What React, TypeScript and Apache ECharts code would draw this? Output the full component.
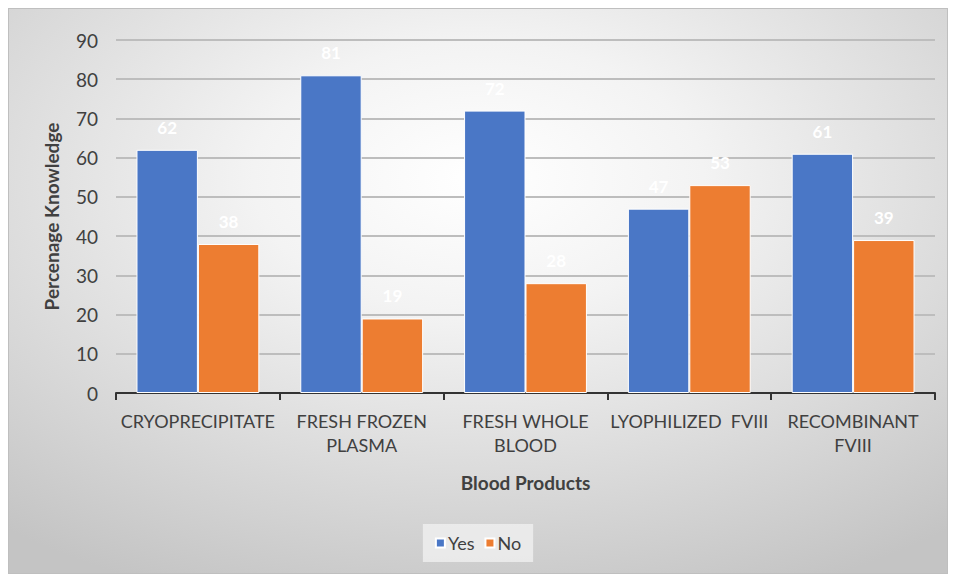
import React, { useEffect, useRef } from "react";
import * as echarts from "echarts";

const categories = ["CRYOPRECIPITATE", "FRESH FROZEN\nPLASMA", "FRESH WHOLE\nBLOOD", "LYOPHILIZED  FVIII", "RECOMBINANT\nFVIII"];
const yesValues = [62, 81, 72, 47, 61];
const noValues = [38, 19, 28, 53, 39];
const seriesNames = ["Yes", "No"];

const FONT = "Lato, 'Open Sans', sans-serif";

export default function App() {
  const ref = useRef<HTMLDivElement>(null);
  useEffect(() => {
    if (!ref.current) return;
    const chart = echarts.init(ref.current, null, { renderer: "svg" });
    const label = {
      show: true,
      position: "top",
      color: "#ffffff",
      fontWeight: "bold",
      fontSize: 17,
      fontFamily: FONT,
      distance: 14,
    };
    chart.setOption({
      animation: false,
      backgroundColor: {
        type: "radial",
        x: 0.5,
        y: 0.3,
        r: 0.8,
        colorStops: [
          { offset: 0, color: "#ffffff" },
          { offset: 0.3, color: "#f3f3f3" },
          { offset: 1, color: "#c4c4c4" },
        ],
      },
      textStyle: { fontFamily: FONT },
      grid: { left: 107, right: 12, top: 31, bottom: 180 },
      legend: {
        bottom: 11,
        left: "center",
        itemWidth: 9,
        itemHeight: 9,
        itemGap: 10,
        icon: "rect",
        backgroundColor: "rgba(240,240,240,0.8)",
        padding: [10, 12],
        textStyle: { fontSize: 18, color: "#404040", fontFamily: FONT, padding: [0, 0, 0, -2] },
        data: seriesNames,
      },
      xAxis: {
        type: "category",
        data: categories,
        name: "Blood Products",
        nameLocation: "middle",
        nameGap: 80,
        nameTextStyle: { fontSize: 19, fontWeight: "bold", color: "#404040", fontFamily: FONT },
        axisLine: { lineStyle: { color: "#333333", width: 2 } },
        axisTick: { show: true, length: 7, lineStyle: { color: "#333333", width: 2 } },
        axisLabel: { fontSize: 18, color: "#404040", fontFamily: FONT, lineHeight: 24, margin: 16, interval: 0 },
      },
      yAxis: {
        type: "value",
        min: 0,
        max: 90,
        interval: 10,
        name: "Percenage Knowledge",
        nameLocation: "middle",
        nameGap: 55,
        nameTextStyle: { fontSize: 19, fontWeight: "bold", color: "#404040", fontFamily: FONT },
        axisLine: { show: false },
        axisTick: { show: false },
        axisLabel: { fontSize: 19, color: "#404040", fontFamily: FONT, margin: 18 },
        splitLine: { lineStyle: { color: "#bdbdbd", width: 2 } },
      },
      series: [
        {
          name: seriesNames[0],
          type: "bar",
          data: yesValues,
          barGap: "0%",
          barCategoryGap: "25%",
          itemStyle: { color: "#4A77C6", borderColor: "#ffffff", borderWidth: 1 },
          label,
        },
        {
          name: seriesNames[1],
          type: "bar",
          data: noValues,
          itemStyle: { color: "#ED7D31", borderColor: "#ffffff", borderWidth: 1 },
          label,
        },
      ],
    });
    return () => chart.dispose();
  }, []);
  return (
    <div
      ref={ref}
      style={{ width: 940, height: 566, boxSizing: "border-box", border: "1px solid #bfbfbf" }}
    />
  );
}
